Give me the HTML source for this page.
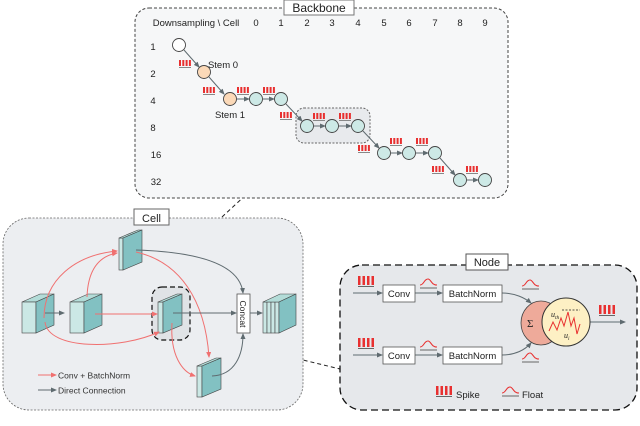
<!DOCTYPE html>
<html><head><meta charset="utf-8"><style>
html,body{margin:0;padding:0;background:#fff;width:640px;height:426px;overflow:hidden}
svg{display:block;font-family:"Liberation Sans",Arial,sans-serif}
</style></head><body>
<svg width="640" height="426" viewBox="0 0 640 426" xmlns="http://www.w3.org/2000/svg">
<defs>
<marker id="ag" markerWidth="6" markerHeight="6" refX="5" refY="3" orient="auto" markerUnits="userSpaceOnUse"><path d="M0,0.5 L6,3 L0,5.5z" fill="#5f6b70"/></marker>
<marker id="ar" markerWidth="6" markerHeight="6" refX="5" refY="3" orient="auto" markerUnits="userSpaceOnUse"><path d="M0,0.5 L6,3 L0,5.5z" fill="#f07070"/></marker>
<g id="sp"><rect x="0" y="0" width="2" height="6" fill="#e83030"/><rect x="3.3" y="0" width="2" height="6" fill="#e83030"/><rect x="6.6" y="0" width="2" height="6" fill="#e83030"/><rect x="9.9" y="0" width="2" height="6" fill="#e83030"/><line x1="0" y1="7.5" x2="12" y2="7.5" stroke="#888" stroke-width="1"/></g>
<g id="sp2"><rect x="0" y="0" width="2.5" height="9" fill="#e83030"/><rect x="4.5" y="0" width="2.5" height="9" fill="#e83030"/><rect x="9" y="0" width="2.5" height="9" fill="#e83030"/><rect x="13.5" y="0" width="2.5" height="9" fill="#e83030"/><line x1="0" y1="10.5" x2="16" y2="10.5" stroke="#666" stroke-width="1"/></g>
<g id="fl"><path d="M0,6 C4,6 4,0 8,0 C11,0 11,6 17,6" fill="none" stroke="#e83030" stroke-width="1.1"/><line x1="0" y1="9" x2="17" y2="9" stroke="#666" stroke-width="1"/></g>
</defs>

<line x1="302" y1="143" x2="222" y2="217" stroke="#222" stroke-width="1" stroke-dasharray="4,3"/>
<line x1="188" y1="332" x2="340" y2="369" stroke="#222" stroke-width="1" stroke-dasharray="4,3"/>

<rect x="135" y="8" width="373" height="190" rx="14" fill="#f6f7f8" stroke="#444" stroke-width="1" stroke-dasharray="3,2"/>
<rect x="284" y="0" width="70" height="15" fill="#fff" stroke="#777"/>
<text x="319" y="12" font-size="12" text-anchor="middle" fill="#222">Backbone</text>
<g font-size="9.5" fill="#222" text-anchor="middle">
<text x="196" y="26">Downsampling \ Cell</text>
<text x="256" y="26">0</text><text x="281" y="26">1</text><text x="307" y="26">2</text><text x="332" y="26">3</text><text x="358" y="26">4</text><text x="384" y="26">5</text><text x="409" y="26">6</text><text x="435" y="26">7</text><text x="460" y="26">8</text><text x="485" y="26">9</text>
<text x="153" y="50">1</text><text x="153" y="77">2</text><text x="153" y="104">4</text><text x="153" y="131">8</text><text x="156" y="158">16</text><text x="156" y="185">32</text>
<text x="223" y="68">Stem 0</text><text x="230" y="118">Stem 1</text>
</g>
<rect x="296" y="108" width="74" height="35" rx="8" fill="#e8eaed" stroke="#666" stroke-dasharray="2,1.5"/>
<g stroke="#5f6b70" stroke-width="1" fill="none" marker-end="url(#ag)">
<line x1="184" y1="50" x2="199" y2="67"/>
<line x1="209" y1="77" x2="224" y2="94"/>
<line x1="237" y1="99" x2="249" y2="99"/>
<line x1="263" y1="99" x2="274" y2="99"/>
<line x1="286" y1="104" x2="302" y2="121"/>
<line x1="314" y1="126" x2="325" y2="126"/>
<line x1="339" y1="126" x2="351" y2="126"/>
<line x1="363" y1="131" x2="379" y2="148"/>
<line x1="391" y1="153" x2="402" y2="153"/>
<line x1="416" y1="153" x2="428" y2="153"/>
<line x1="440" y1="158" x2="455" y2="175"/>
<line x1="467" y1="180" x2="478" y2="180"/>
</g>
<g stroke="#444" stroke-width="0.9">
<circle cx="179" cy="45" r="6.5" fill="#fff"/>
<circle cx="204" cy="72" r="6.5" fill="#fbd9b8"/>
<circle cx="230" cy="99" r="6.5" fill="#fbd9b8"/>
<circle cx="256" cy="99" r="6.5" fill="#cde9e6"/><circle cx="281" cy="99" r="6.5" fill="#cde9e6"/>
<circle cx="307" cy="126" r="6.5" fill="#cde9e6"/><circle cx="332" cy="126" r="6.5" fill="#cde9e6"/><circle cx="358" cy="126" r="6.5" fill="#cde9e6"/>
<circle cx="384" cy="153" r="6.5" fill="#cde9e6"/><circle cx="409" cy="153" r="6.5" fill="#cde9e6"/><circle cx="435" cy="153" r="6.5" fill="#cde9e6"/>
<circle cx="460" cy="180" r="6.5" fill="#cde9e6"/><circle cx="485" cy="180" r="6.5" fill="#cde9e6"/>
</g>
<use href="#sp" x="179" y="60"/><use href="#sp" x="203" y="87"/><use href="#sp" x="237" y="87"/><use href="#sp" x="263" y="87"/>
<use href="#sp" x="280" y="112"/><use href="#sp" x="313" y="113"/><use href="#sp" x="339" y="113"/>
<use href="#sp" x="358" y="145"/><use href="#sp" x="390" y="138"/><use href="#sp" x="416" y="138"/>
<use href="#sp" x="432" y="166"/><use href="#sp" x="466" y="166"/>

<rect x="3" y="218" width="300" height="192" rx="26" fill="#eceef1" stroke="#666" stroke-width="0.8" stroke-dasharray="2,1.5"/>
<rect x="134" y="209" width="35" height="16" fill="#fff" stroke="#666"/>
<text x="151.5" y="222" font-size="11" text-anchor="middle" fill="#222">Cell</text>
<rect x="152" y="287" width="38" height="53" rx="10" fill="#e0e3e6" stroke="#111" stroke-width="1.2" stroke-dasharray="5,3"/>

<g stroke="#444" stroke-width="0.6">
<polygon points="22,302 40,294 54,294 36,302" fill="#b3dcd8"/>
<rect x="22" y="302" width="14" height="31" fill="#cbe8e5"/>
<polygon points="36,302 54,294 54,325 36,333" fill="#82c1c2"/>
<polygon points="70,302 88,294 102,294 84,302" fill="#b3dcd8"/>
<rect x="70" y="302" width="14" height="31" fill="#cbe8e5"/>
<polygon points="84,302 102,294 102,325 84,333" fill="#82c1c2"/>
<rect x="119" y="238" width="4" height="32" fill="#cbe8e5"/>
<polygon points="119,238 138,230 142,230 123,238" fill="#b3dcd8"/>
<polygon points="123,238 142,230 142,262 123,270" fill="#82c1c2"/>
<rect x="158" y="302" width="5" height="31" fill="#cbe8e5"/>
<polygon points="158,302 177,294 182,294 163,302" fill="#b3dcd8"/>
<polygon points="163,302 182,294 182,325 163,333" fill="#82c1c2"/>
<rect x="197" y="366" width="5" height="31" fill="#cbe8e5"/>
<polygon points="197,366 216,358 221,358 202,366" fill="#b3dcd8"/>
<polygon points="202,366 221,358 221,389 202,397" fill="#82c1c2"/>
<rect x="263" y="302" width="4" height="31" fill="#cbe8e5"/>
<rect x="267" y="302" width="4" height="31" fill="#cbe8e5"/>
<rect x="271" y="302" width="4" height="31" fill="#cbe8e5"/>
<rect x="275" y="302" width="4" height="31" fill="#cbe8e5"/>
<polygon points="263,302 280,294 296,294 279,302" fill="#b3dcd8"/>
<polygon points="279,302 296,294 296,325 279,333" fill="#82c1c2"/>
</g>
<rect x="237" y="294" width="13" height="39" fill="#fff" stroke="#555" stroke-width="0.8"/>
<text transform="translate(240,314) rotate(90)" font-size="8.5" text-anchor="middle" fill="#222">Concat</text>

<g fill="none" stroke="#f07070" stroke-width="1" marker-end="url(#ar)">
<path d="M44,318 C44,280 75,255 117,251"/>
<path d="M87,297 C88,268 100,256 117,253"/>
<path d="M45,322 C48,350 120,350 159,332"/>
<line x1="95" y1="314" x2="157" y2="314"/>
<path d="M136,252 C180,262 205,300 209,357"/>
<path d="M172,323 C170,355 182,372 195,376"/>
<line x1="38" y1="375" x2="56" y2="375"/>
</g>
<g fill="none" stroke="#5f6b70" stroke-width="1" marker-end="url(#ag)">
<line x1="45" y1="313" x2="64" y2="313"/>
<path d="M136,250 C200,252 240,265 243,293"/>
<line x1="173" y1="313" x2="236" y2="313"/>
<path d="M212,376 C235,375 243,355 243,334"/>
<line x1="250" y1="313" x2="262" y2="313"/>
<line x1="38" y1="390" x2="56" y2="390"/>
</g>
<text x="58" y="378.5" font-size="8.5" fill="#333">Conv + BatchNorm</text>
<text x="58" y="393.5" font-size="8.5" fill="#333">Direct Connection</text>

<rect x="340" y="265" width="297" height="145" rx="22" fill="#e6e8eb" stroke="#111" stroke-width="1.3" stroke-dasharray="7,4"/>
<rect x="466" y="254" width="42" height="16" fill="#fff" stroke="#555"/>
<text x="487" y="266" font-size="11" text-anchor="middle" fill="#222">Node</text>

<g fill="none" stroke="#5f6b70" stroke-width="1" marker-end="url(#ag)">
<line x1="353" y1="293" x2="382" y2="293"/>
<line x1="415" y1="293" x2="442" y2="293"/>
<line x1="353" y1="355" x2="382" y2="355"/>
<line x1="415" y1="355" x2="442" y2="355"/>
<path d="M502,293 C515,293 525,298 531,303"/>
<path d="M502,355 C515,355 525,350 531,343"/>
<line x1="590" y1="322" x2="625" y2="322"/>
</g>
<g fill="#fff" stroke="#555" stroke-width="0.8">
<rect x="383" y="285" width="32" height="17"/><rect x="443" y="285" width="59" height="17"/>
<rect x="383" y="347" width="32" height="17"/><rect x="443" y="347" width="59" height="17"/>
</g>
<g font-size="9.5" fill="#222" text-anchor="middle">
<text x="399" y="297">Conv</text><text x="472.5" y="297">BatchNorm</text>
<text x="399" y="359">Conv</text><text x="472.5" y="359">BatchNorm</text>
</g>
<use href="#sp2" x="358" y="276"/><use href="#sp2" x="358" y="338"/>
<use href="#fl" x="420" y="279"/><use href="#fl" x="420" y="341"/>
<use href="#fl" x="522" y="280"/><use href="#fl" x="522" y="353"/>
<use href="#sp2" x="599" y="305"/>
<ellipse cx="541" cy="323" rx="20" ry="22" fill="#eeaa9a" stroke="#444" stroke-width="0.8"/>
<circle cx="566" cy="322" r="24" fill="#fdf0c4" stroke="#333" stroke-width="1"/>
<text x="527" y="327" font-size="11" fill="#222" font-family="Liberation Serif,serif">Σ</text>
<text x="551" y="317" font-size="8" font-style="italic" fill="#222" font-family="Liberation Serif,serif">u<tspan font-size="5.5" dy="2">th</tspan></text>
<line x1="562" y1="310" x2="580" y2="310" stroke="#222" stroke-dasharray="2,1.5" stroke-width="0.8"/>
<path d="M549,331 L553,322 L557,330 L561,318 L564,326 L568,312 L571,326 L574,318 L577,334 L580,324" fill="none" stroke="#e83030" stroke-width="1"/>
<text x="564" y="338" font-size="8" font-style="italic" fill="#222" font-family="Liberation Serif,serif">u<tspan font-size="5.5" dy="2">i</tspan></text>
<use href="#sp2" x="436" y="386"/>
<text x="456" y="398" font-size="9.5" fill="#222">Spike</text>
<use href="#fl" x="502" y="387"/>
<text x="522" y="398" font-size="9.5" fill="#222">Float</text>
</svg>
</body></html>
